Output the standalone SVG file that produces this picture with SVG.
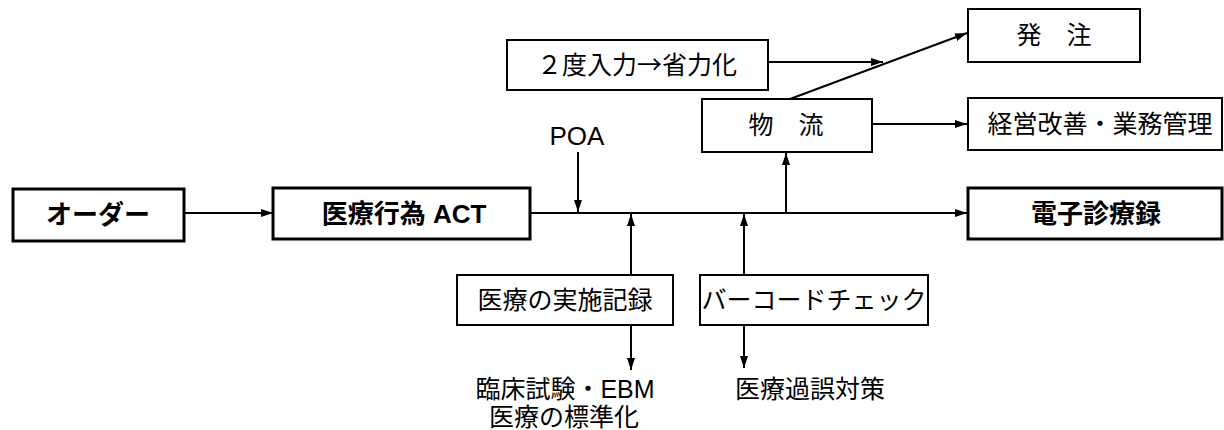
<svg xmlns="http://www.w3.org/2000/svg" width="1224" height="430" viewBox="0 0 1224 430">
<style>
.box{fill:#fff;stroke:#000;stroke-width:2}
.bold{fill:#fff;stroke:#000;stroke-width:3}
.t{font-family:"Liberation Sans","Noto Sans CJK JP",sans-serif;font-size:25px;fill:#000;text-anchor:middle}
.tb{font-family:"Liberation Sans","Noto Sans CJK JP",sans-serif;font-size:26px;font-weight:bold;fill:#000;text-anchor:middle}
.cjk{font-family:"Noto Sans CJK JP",sans-serif}
.ln{fill:none;stroke:#000;stroke-width:2}
</style>
<defs>
<marker id="ah" viewBox="0 0 12 8" refX="12" refY="4" markerWidth="12" markerHeight="8" markerUnits="userSpaceOnUse" orient="auto">
<path d="M0,0 L12,4 L0,8 Z" fill="#000"/>
</marker>
</defs>
<g id="connectors">
<line class="ln" x1="184" y1="213" x2="273" y2="213" marker-end="url(#ah)"/>
<line class="ln" x1="530" y1="213" x2="967" y2="213" marker-end="url(#ah)"/>
<line class="ln" x1="578" y1="152" x2="578" y2="212" marker-end="url(#ah)"/>
<line class="ln" x1="631" y1="275" x2="631" y2="214" marker-end="url(#ah)"/>
<line class="ln" x1="631" y1="325" x2="631" y2="370" marker-end="url(#ah)"/>
<line class="ln" x1="744" y1="275" x2="744" y2="214" marker-end="url(#ah)"/>
<line class="ln" x1="744" y1="325" x2="744" y2="368" marker-end="url(#ah)"/>
<line class="ln" x1="786" y1="213" x2="786" y2="153" marker-end="url(#ah)"/>
<line class="ln" x1="872" y1="124" x2="967" y2="124" marker-end="url(#ah)"/>
<line class="ln" x1="790" y1="99" x2="967" y2="33" marker-end="url(#ah)"/>
<line class="ln" x1="768" y1="62" x2="883" y2="62" marker-end="url(#ah)"/>
</g>
<g id="order"><rect class="bold" x="13" y="189" width="171" height="52"/><text class="tb" x="98" y="224">オーダー</text></g>
<g id="act"><rect class="bold" x="273" y="188" width="257" height="51"/><text class="tb" x="404" y="223">医療行為 ACT</text></g>
<g id="emr"><rect class="bold" x="968" y="188" width="254" height="51"/><text class="tb" x="1096" y="223">電子診療録</text></g>
<g id="mgmt"><rect class="box" x="968" y="98" width="254" height="52"/><text class="t" x="1100" y="133">経営改善・業務管理</text></g>
<g id="hatchu"><rect class="box" x="968" y="9" width="172" height="53"/><text class="t" x="1054" y="44">発　注</text></g>
<g id="butsuryu"><rect class="box" x="702" y="99" width="170" height="53"/><text class="t" x="786" y="134">物　流</text></g>
<g id="input2"><rect class="box" x="507" y="40" width="261" height="50"/><text class="t cjk" x="637" y="74">２度入力→省力化</text></g>
<g id="poa"><text class="t" x="577" y="145" style="font-size:26px">POA</text></g>
<g id="record"><rect class="box" x="457" y="275" width="216" height="50"/><text class="t" x="565" y="309">医療の実施記録</text></g>
<g id="barcode"><rect class="box" x="700" y="275" width="228" height="50"/><text class="t" x="814" y="309">バーコードチェック</text></g>
<g id="ebm"><text class="t" x="565" y="398">臨床試験・EBM</text><text class="t" x="564" y="426">医療の標準化</text></g>
<g id="error"><text class="t" x="810" y="398">医療過誤対策</text></g>
</svg>
